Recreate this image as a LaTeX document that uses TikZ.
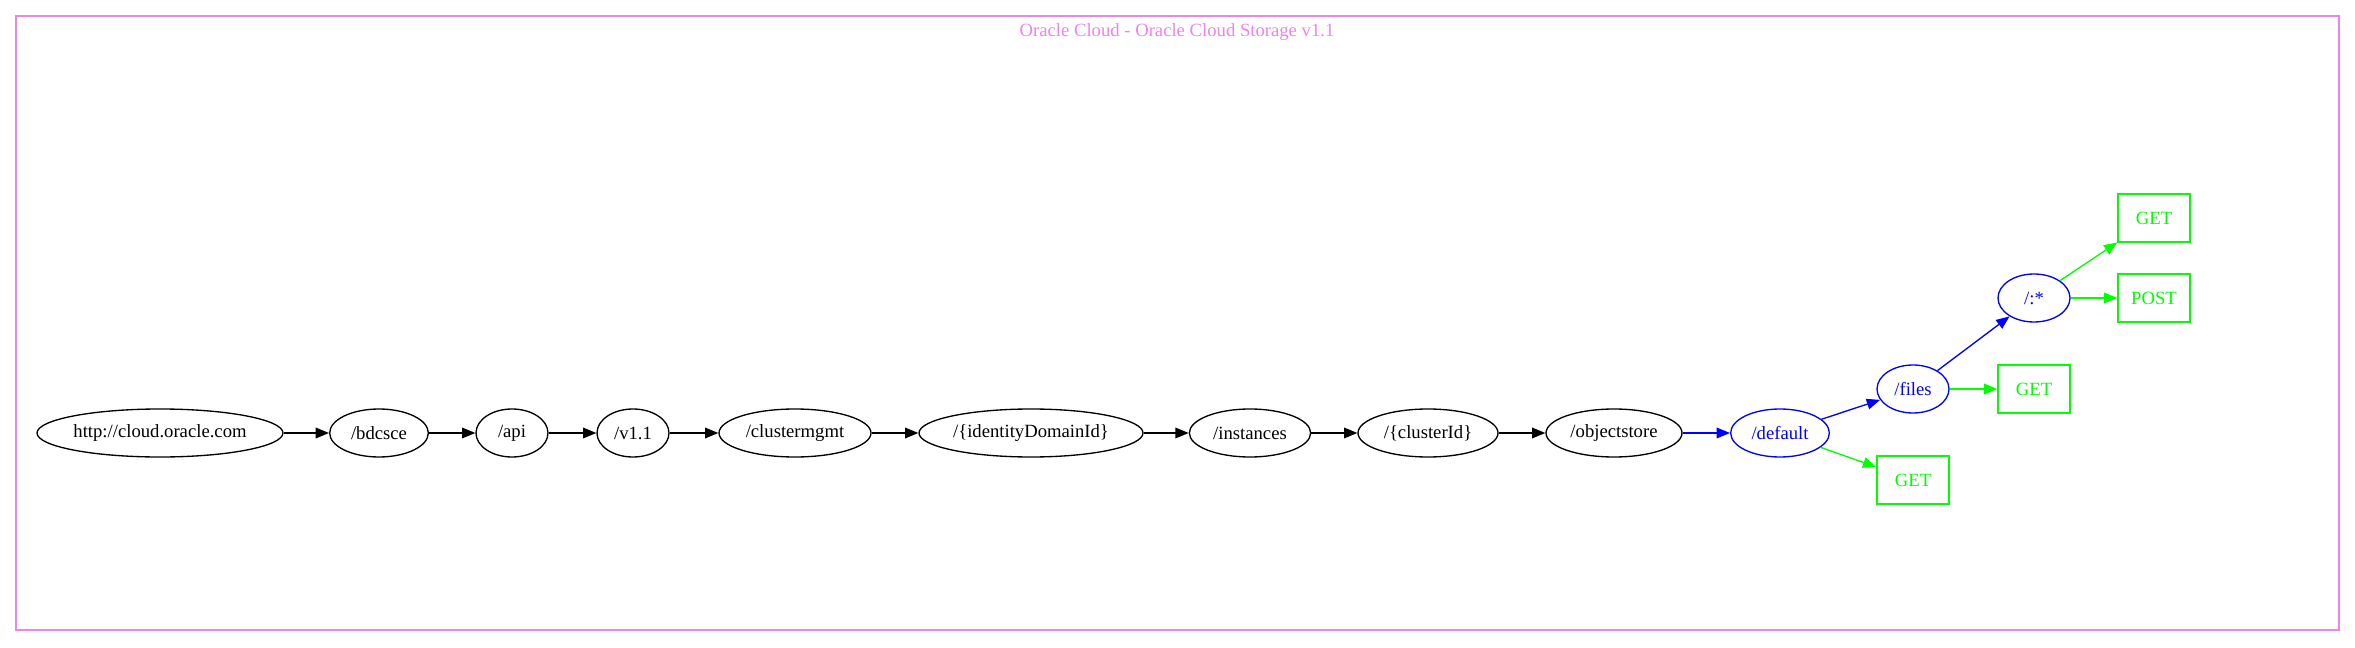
\documentclass[tikz,border=0pt]{standalone}
\usepackage{fontspec}
\setmainfont{Liberation Serif}
\usetikzlibrary{arrows.meta,shapes.geometric}
\definecolor{gvviolet}{HTML}{EE82EE}
\definecolor{gvblue}{HTML}{0000FF}
\definecolor{gvgreen}{HTML}{00FF00}

\begin{document}
\begin{tikzpicture} [
    x=0.75pt, y=-0.75pt,
    font=\fontsize{14}{16}\selectfont,
    res/.style      = { ellipse, draw, line width=1pt, inner sep=0pt,
                        minimum height=36pt, text centered },
    dyn/.style      = { res, draw=gvblue, text=gvblue },
    verb/.style     = { rectangle, draw=gvgreen, text=gvgreen, line width=1pt,
                        minimum width=54pt, minimum height=36pt },
    line/.style     = { draw, line width=1pt, -{Triangle[length=10pt,width=8pt]} },
  ]
  \useasboundingbox (0,0) rectangle (2355,648);

  % frame and title
  \draw[gvviolet, line width=1pt] (16,16) rectangle (2339,630);
  \node[text=gvviolet] (title) at (1177,32) {Oracle Cloud - Oracle Cloud Storage v1.1};

  % Define nodes
  \node[res, minimum width=184.5pt](root)    at (160,433)  {http://cloud.oracle.com};
  \node[res, minimum width=74pt]  (bdcsce)   at (379,433)  {/bdcsce};
  \node[res, minimum width=54pt]  (api)      at (512,433)  {/api};
  \node[res, minimum width=54pt]  (version)  at (633,433)  {/v1.1};
  \node[res, minimum width=114pt] (cluster)  at (795,433)  {/clustermgmt};
  \node[res, minimum width=168pt] (domain)   at (1031,433) {/\{identityDomainId\}};
  \node[res, minimum width=91pt]  (inst)     at (1250,433) {/instances};
  \node[res, minimum width=105pt] (clid)     at (1428,433) {/\{clusterId\}};
  \node[res, minimum width=102pt] (objstore) at (1614,433) {/objectstore};
  \node[dyn, minimum width=74pt]  (default)  at (1780,433) {/default};
  \node[dyn, minimum width=54pt]  (files)    at (1913,389) {/files};
  \node[dyn, minimum width=54pt]  (any)      at (2034,298) {/:*};

  \node[verb] (getany)     at (2154,218) {GET};
  \node[verb] (postany)    at (2154,298) {POST};
  \node[verb] (getfiles)   at (2034,389) {GET};
  \node[verb] (getdefault) at (1913,480) {GET};

  % connect the nodes
  \path [line] (root) -- (bdcsce);
  \path [line] (bdcsce) -- (api);
  \path [line] (api) -- (version);
  \path [line] (version) -- (cluster);
  \path [line] (cluster) -- (domain);
  \path [line] (domain) -- (inst);
  \path [line] (inst) -- (clid);
  \path [line] (clid) -- (objstore);
  \path [line, gvblue] (objstore) -- (default);
  \path [line, gvblue] (default) -- (files);
  \path [line, gvblue] (files) -- (any);
  \path [line, gvgreen] (default) -- (getdefault);
  \path [line, gvgreen] (files) -- (getfiles);
  \path [line, gvgreen] (any) -- (getany);
  \path [line, gvgreen] (any) -- (postany);
\end{tikzpicture}
\end{document}
